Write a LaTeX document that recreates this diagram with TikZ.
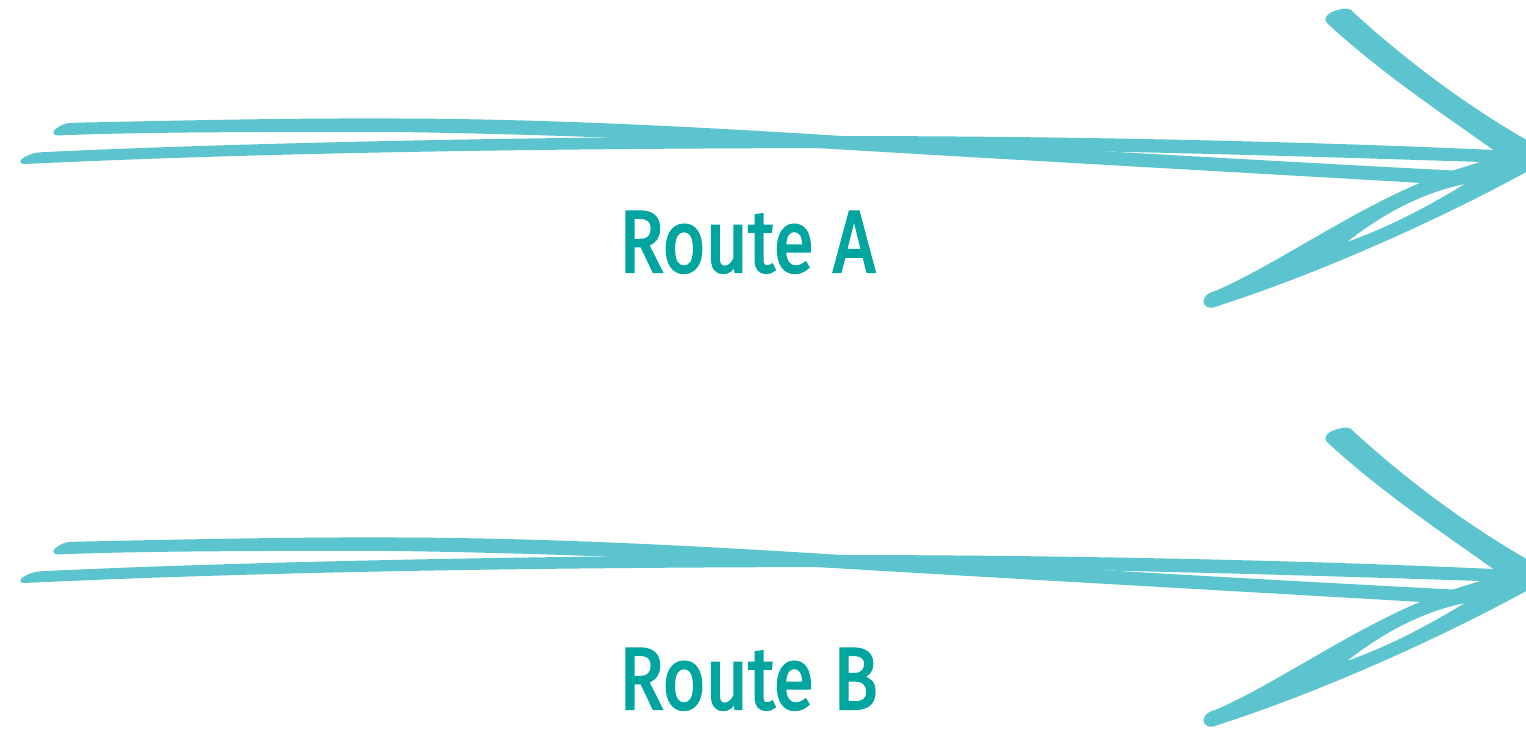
\documentclass[tikz,border=0pt]{standalone}
\usepackage{fontspec}
\newfontfamily\labelfont{Fira Sans}[FakeStretch=0.835, FakeBold=2.5]
\definecolor{arrowc}{RGB}{91,196,207}
\definecolor{textc}{RGB}{0,165,160}
\tikzset{
  brush/.style={fill=arrowc, draw=none},
  routelabel/.style={text=textc, font=\labelfont\fontsize{88}{88}\selectfont, inner sep=0pt, text depth=0pt, anchor=base west}
}
\newcommand\sketcharrow[1]{%
\begin{scope}[yshift=#1]
  % shaft stroke 1 (upper left -> lower right)
  \fill[brush] (58,135.5) .. controls (52,135) and (52,131) .. (57,128) .. controls (61,125) and (65,123) .. (72,122.8)
    .. controls (200,120) and (300,118) .. (400,118.5)
    .. controls (550,119) and (700,127) .. (850,136.5)
    .. controls (1050,148) and (1250,160) .. (1453,170.5)
    -- (1422,183)
    .. controls (1250,173) and (1000,159) .. (850,150)
    .. controls (700,141) and (580,135) .. (400,132)
    .. controls (250,131.5) and (120,132.5) .. (58,135.5) -- cycle;
  % shaft stroke 2 (lower left -> upper right)
  \fill[brush] (24,164) .. controls (19,164) and (19,160) .. (24,157.5) .. controls (30,154) and (35,152.5) .. (42,152.2)
    .. controls (200,144.5) and (500,136.5) .. (830,136)
    .. controls (1100,136) and (1350,143) .. (1515,151)
    -- (1515,163)
    .. controls (1350,158) and (1100,149) .. (830,148)
    .. controls (600,148.5) and (300,151) .. (24,164) -- cycle;
  % upper barb
  \fill[brush] (1327,23) .. controls (1322,17) and (1330,11) .. (1342,9) .. controls (1348,8) and (1351,9) .. (1353,12)
    .. controls (1400,55) and (1460,102) .. (1530,142)
    -- (1530,165) -- (1500,155) -- (1492,149)
    .. controls (1440,112) and (1380,72) .. (1327,23) -- cycle;
  % lower barb
  \fill[brush, even odd rule] (1213,307.5) .. controls (1205,309) and (1201,302) .. (1205,297) .. controls (1207,294) and (1211,292) .. (1215,291)
    .. controls (1270,268) and (1350,212) .. (1420,183)
    -- (1453,170.5) -- (1477,163) -- (1515,152) -- (1530,152) -- (1530,170)
    .. controls (1420,230) and (1300,280) .. (1213,307.5) -- cycle
    (1347,242) .. controls (1385,212) and (1425,192) .. (1465,184)
    .. controls (1435,202) and (1395,225) .. (1347,242) -- cycle;
\end{scope}}
\begin{document}
\begin{tikzpicture}[x=1pt,y=-1pt]
  \useasboundingbox (0,0) rectangle (1526,729);
  \sketcharrow{0pt}
  \sketcharrow{-419pt}
  \node[routelabel] (labelA) at (619,272) {Route A};
  \node[routelabel] (labelB) at (619,709) {Route B};
\end{tikzpicture}
\end{document}
